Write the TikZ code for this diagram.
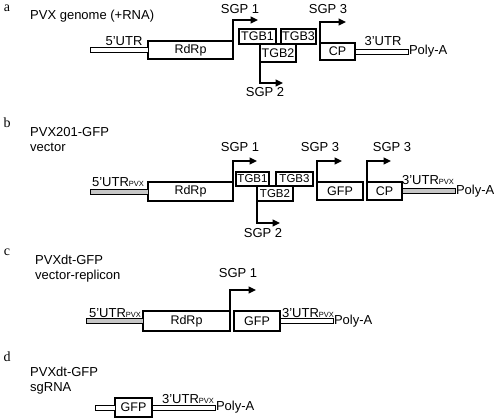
\documentclass[tikz,border=0pt]{standalone}
\usepackage{fontspec}
\setmainfont{Liberation Sans}
\newfontfamily\letterfont{Liberation Serif}
\usetikzlibrary{arrows.meta}
\newcommand{\pvxsub}{{\fontsize{7.5}{8}\selectfont PVX}}
\begin{document}
\begin{tikzpicture}[x=1pt,y=-1pt,
  box/.style={draw, line width=1.4pt, inner sep=0pt, outer sep=0pt, anchor=north west,
    font=\fontsize{12.5}{13}\selectfont},
  smallbox/.style={box, font=\fontsize{11.5}{13}\selectfont},
  utrw/.style={draw, line width=0.9pt, fill=white, minimum height=5pt, inner sep=0pt, outer sep=0pt},
  utrg/.style={utrw, fill=gray!45},
  sgp/.style={line width=1.4pt, -{Triangle[length=7.5pt,width=7pt]}},
  lbl/.style={font=\fontsize{13}{14}\selectfont, inner sep=0pt, anchor=base},
  ttl/.style={font=\fontsize{13}{15}\selectfont, inner sep=0pt, anchor=north west, align=left},
  letter/.style={font=\fontsize{14}{14}\letterfont, inner sep=0pt},
  poly/.style={font=\fontsize{13}{14}\selectfont, inner sep=0.8pt, anchor=west}]
\useasboundingbox (0,0) rectangle (494,419);

% ---------- panel a ----------
\node[letter] (la) at (7,8) {a};
\node[ttl] (ta) at (30,10) {PVX genome (+RNA)};
\node[box, minimum width=85, minimum height=18] (rdrpA) at (148,41) {RdRp};
\node[utrw, minimum width=58, anchor=east] (u5A) at (rdrpA.west) {};
\node[lbl] (u5Al) at (124,45.5) {5'UTR};
\node[box, minimum width=37, minimum height=15] (tgb1A) at (239,29) {TGB1};
\node[box, minimum width=35, minimum height=15] (tgb3A) at (281,29) {TGB3};
\node[box, minimum width=36, minimum height=18] (tgb2A) at (260,44) {TGB2};
\node[box, minimum width=35, minimum height=17] (cpA) at (320,43) {CP};
\node[utrw, minimum width=53, anchor=west] (u3A) at (cpA.east) {};
\node[lbl] (u3Al) at (383,45.5) {3'UTR};
\node[poly] (polyA) at (u3A.east) {Poly-A};
\coordinate (s1A) at (258,20);
\coordinate (s2A) at (283,83);
\coordinate (s3A) at (346,22);
\draw[sgp] (rdrpA.south east) |- (s1A);
\draw[sgp] (tgb2A.south west) |- (s2A);
\draw[sgp] (cpA.north west) |- (s3A);
\node[lbl] (s1Al) at (240,13.5) {SGP 1};
\node[lbl] (s2Al) at (265,96.5) {SGP 2};
\node[lbl] (s3Al) at (328,13.5) {SGP 3};

% ---------- panel b ----------
\node[letter] (lb) at (7,123) {b};
\node[ttl] (tb) at (30,127) {PVX201-GFP\\vector};
\node[box, minimum width=85, minimum height=19] (rdrpB) at (148,182) {RdRp};
\node[utrg, minimum width=58, anchor=east] (u5B) at (rdrpB.west) {};
\node[lbl] (u5Bl) at (118,187) {5'UTR\pvxsub};
\node[smallbox, minimum width=33, minimum height=14] (tgb1B) at (236,172) {TGB1};
\node[smallbox, minimum width=37, minimum height=14] (tgb3B) at (276,172) {TGB3};
\node[smallbox, minimum width=36, minimum height=15] (tgb2B) at (257,186) {TGB2};
\node[box, minimum width=46, minimum height=18] (gfpB) at (317,182) {GFP};
\node[box, minimum width=35, minimum height=18] (cpB) at (367,182) {CP};
\node[utrg, minimum width=53, anchor=west] (u3B) at (cpB.east) {};
\node[lbl] (u3Bl) at (428,185) {3'UTR\pvxsub};
\node[poly] (polyB) at (u3B.east) {Poly-A};
\coordinate (s1B) at (257,161);
\coordinate (s2B) at (280,223);
\coordinate (s3B) at (342,161);
\coordinate (s4B) at (391,161);
\draw[sgp] (rdrpB.south east) |- (s1B);
\draw[sgp] (tgb2B.south west) |- (s2B);
\draw[sgp] (gfpB.north west) |- (s3B);
\draw[sgp] (cpB.north west) |- (s4B);
\node[lbl] (s1Bl) at (240,151.5) {SGP 1};
\node[lbl] (s2Bl) at (263,237.5) {SGP 2};
\node[lbl] (s3Bl) at (320,151.5) {SGP 3};
\node[lbl] (s4Bl) at (392,151.5) {SGP 3};

% ---------- panel c ----------
\node[letter] (lc) at (7,252) {c};
\node[ttl] (tc) at (35,255) {PVXdt-GFP\\vector-replicon};
\node[box, minimum width=87, minimum height=20] (rdrpC) at (143,311) {RdRp};
\node[utrg, minimum width=57, anchor=east] (u5C) at (rdrpC.west) {};
\node[lbl] (u5Cl) at (115,317) {5'UTR\pvxsub};
\node[box, minimum width=46, minimum height=20] (gfpC) at (234,311) {GFP};
\node[utrw, minimum width=53, anchor=west] (u3C) at (gfpC.east) {};
\node[lbl] (u3Cl) at (308,317) {3'UTR\pvxsub};
\node[poly] (polyC) at (u3C.east) {Poly-A};
\coordinate (s1C) at (256,290);
\draw[sgp] (rdrpC.south east) |- (s1C);
\node[lbl] (s1Cl) at (238,277.5) {SGP 1};

% ---------- panel d ----------
\node[letter] (ld) at (7,357) {d};
\node[ttl] (td) at (30,367) {PVXdt-GFP\\sgRNA};
\node[box, minimum width=37, minimum height=19] (gfpD) at (115,398) {GFP};
\node[utrw, minimum width=20, anchor=east] (u5D) at (gfpD.west) {};
\node[utrw, minimum width=63, anchor=west] (u3D) at (gfpD.east) {};
\node[lbl] (u3Dl) at (188,403) {3'UTR\pvxsub};
\node[poly] (polyD) at (u3D.east) {Poly-A};
\end{tikzpicture}
\end{document}
